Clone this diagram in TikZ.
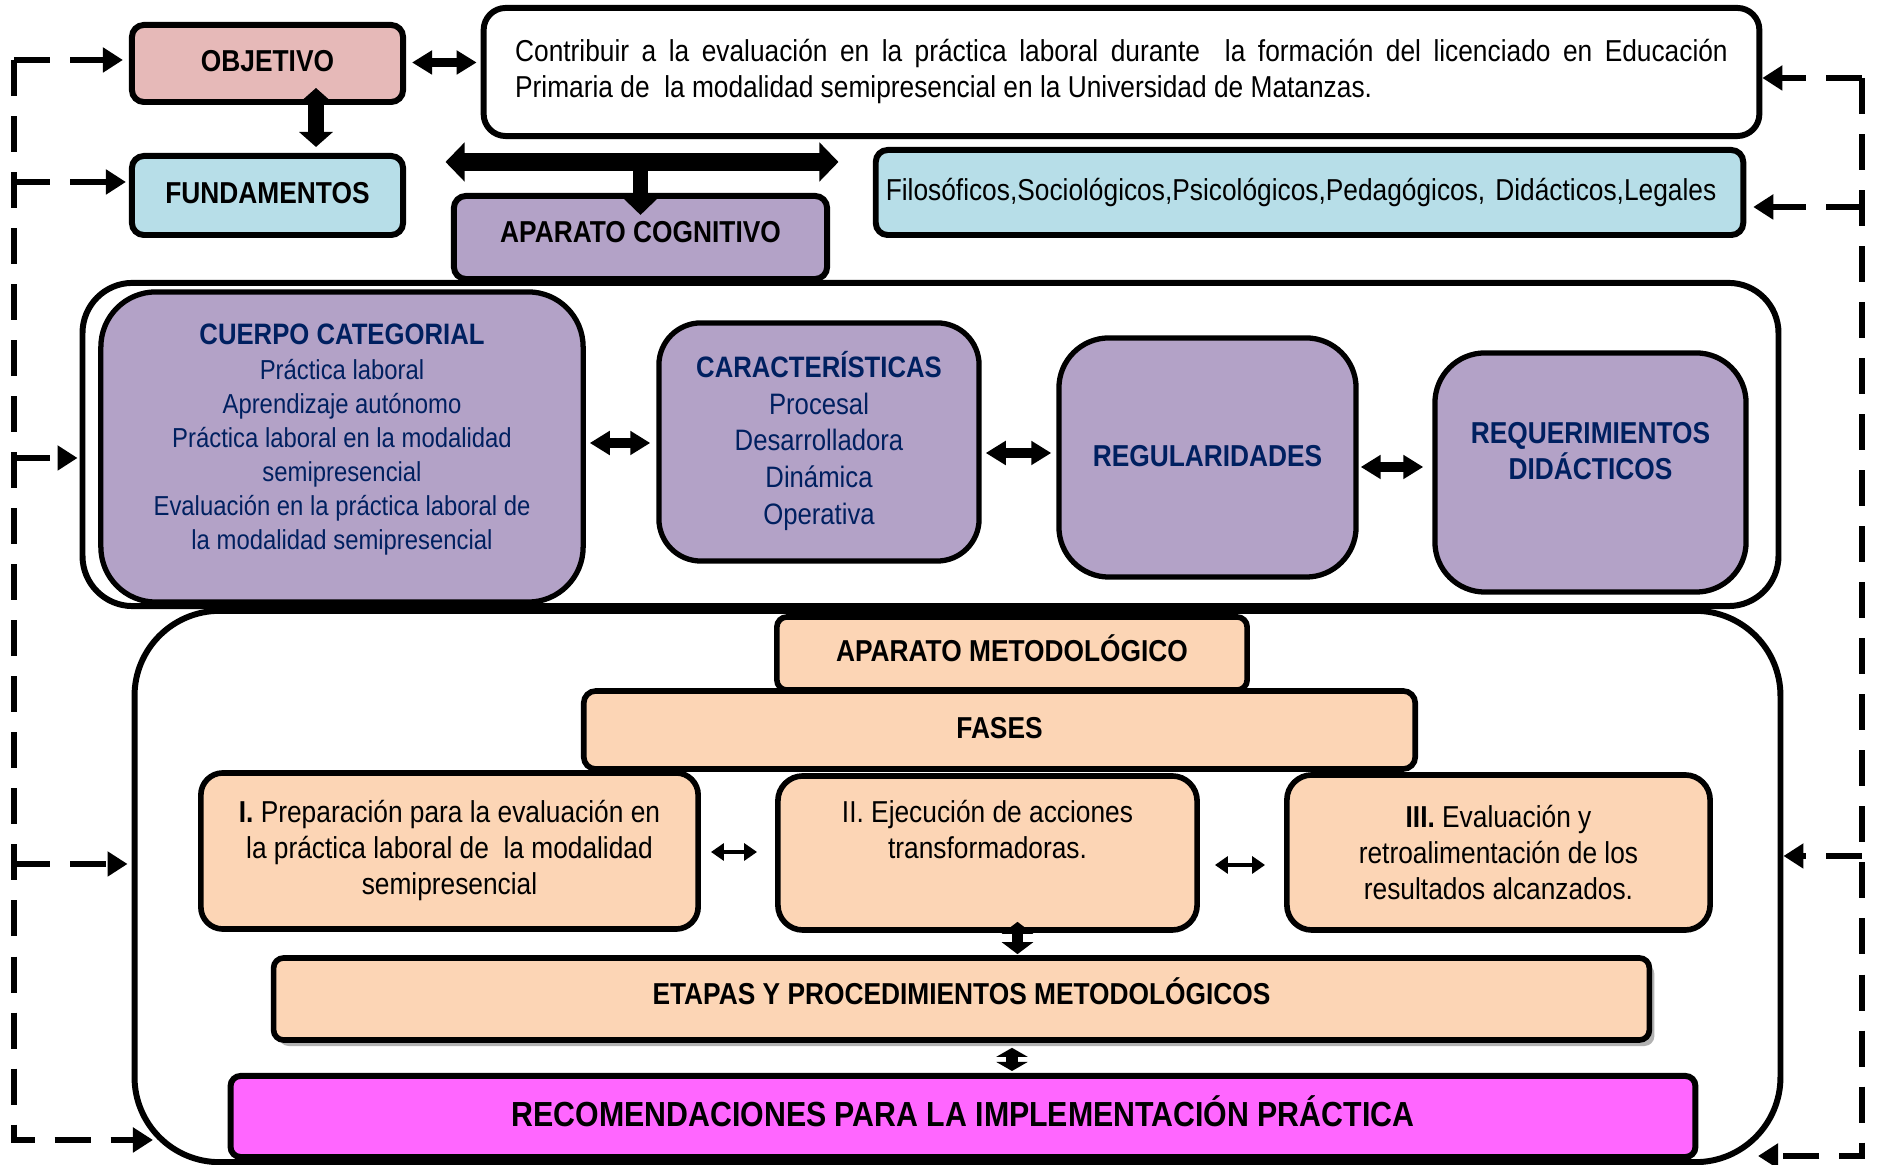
\documentclass[tikz,border=0pt]{standalone}
\usepackage{fontspec}
\setmainfont{Liberation Sans}[FakeStretch=0.87]
\usetikzlibrary{arrows.meta,calc,shadows}

\definecolor{objpink}{HTML}{E6B9B8}
\definecolor{fundblue}{HTML}{B7DEE8}
\definecolor{cogviolet}{HTML}{B3A2C7}
\definecolor{metpeach}{HTML}{FCD5B5}
\definecolor{recmagenta}{HTML}{FF66FF}
\definecolor{catnavy}{HTML}{002060}

\tikzset{
	box/.style={draw, line width=1.7pt, align=center, inner sep=0pt, font=\fontsize{8.6}{10.24}\selectfont},
	headbox/.style={box, font=\fontsize{8.6}{10.24}\selectfont\bfseries, text height=6.2pt, text depth=0.05cm},
	cogbox/.style={box, fill=cogviolet, line width=1.5pt, text=catnavy},
	metbox/.style={box, fill=metpeach, line width=1.6pt},
	bigframe/.style={draw, line width=1.7pt, fill=white, inner sep=0pt},
	dblarrow/.style={line width=2.8pt, {Triangle[length=0.2cm,width=0.23cm]}-{Triangle[length=0.2cm,width=0.23cm]}},
	thinarrow/.style={line width=1.1pt, {Triangle[length=0.13cm,width=0.17cm]}-{Triangle[length=0.13cm,width=0.17cm]}},
	updown/.style={line width=3.4pt, {Triangle[length=0.12cm,width=0.31cm]}-{Triangle[length=0.12cm,width=0.31cm]}},
	feedback/.style={line width=1.6pt, dash pattern=on 0.36cm off 0.2cm, -{Triangle[length=0.2cm,width=0.24cm]}}
}

\begin{document}
\begin{tikzpicture}[x=0.01cm, y=-0.01cm]
	\useasboundingbox (0,0) rectangle (1878,1165);
	
	%%%%% FRAMES %%%%%
	\node[bigframe, rounded corners=0.85cm, minimum width=16.45cm, minimum height=5.51cm] (metframe) at (957.5,886.5) {};
	\node[bigframe, rounded corners=0.5cm, minimum width=16.95cm, minimum height=3.23cm] (cogframe) at (930.5,444.5) {};
	
	%%%%% TOP %%%%%
	\node[headbox, fill=objpink, rounded corners=0.12cm, minimum width=2.71cm, minimum height=0.77cm] (obj) at (267.5,63.5) {OBJETIVO};
	\node[headbox, fill=fundblue, rounded corners=0.12cm, minimum width=2.71cm, minimum height=0.79cm] (fund) at (267.5,195.5) {FUNDAMENTOS};
	\node[box, fill=white, rounded corners=0.22cm, minimum width=12.75cm, minimum height=1.28cm, text width=12.12cm, align=justify] (objtext) at (1121.5,72)
		{\hyphenpenalty=10000\tolerance=9999 Contribuir a la evaluación en la práctica laboral durante~ la formación del licenciado en Educación\linebreak Primaria de~ la modalidad semipresencial en la Universidad de Matanzas.};
	\node[box, fill=fundblue, rounded corners=0.12cm, minimum width=8.67cm, minimum height=0.85cm, text width=8.47cm, align=left] (filo) at (1309.5,192.5)
		{Filosóficos,Sociológicos,Psicológicos,Pedagógicos, Didácticos,Legales};
	\node[headbox, fill=cogviolet, rounded corners=0.12cm, minimum width=3.73cm, minimum height=0.83cm, text depth=0.12cm] (apcog) at (640.5,237.5) {APARATO COGNITIVO};
	
	%%%%% APARATO COGNITIVO %%%%%
	\node[cogbox, rounded corners=0.55cm, minimum width=4.82cm, minimum height=3.10cm, font=\fontsize{7.8}{9.7}\selectfont] (cuerpo) at (342,447)
		{{\fontsize{8.4}{10.5}\selectfont\bfseries CUERPO CATEGORIAL}\\Práctica laboral\\Aprendizaje autónomo\\Práctica laboral en la modalidad\\semipresencial\\Evaluación en la práctica laboral de\\la modalidad semipresencial\\[-4pt]\mbox{}};
	\node[cogbox, rounded corners=0.42cm, minimum width=3.20cm, minimum height=2.38cm, font=\fontsize{8.4}{10.4}\selectfont] (carac) at (819,442)
		{\textbf{CARACTERÍSTICAS}\\Procesal\\Desarrolladora\\Dinámica\\Operativa\\[-8pt]\mbox{}};
	\node[cogbox, rounded corners=0.5cm, minimum width=2.97cm, minimum height=2.39cm, font=\fontsize{8.6}{10.24}\selectfont\bfseries, text height=6.2pt, text depth=0.03cm] (regul) at (1207.5,457.5) {REGULARIDADES};
	\node[cogbox, rounded corners=0.5cm, minimum width=3.11cm, minimum height=2.39cm,
		label={[text=catnavy, align=center, font=\fontsize{8.6}{10.24}\selectfont\bfseries, yshift=0.21cm]center:{REQUERIMIENTOS\\DIDÁCTICOS}}] (requer) at (1590.5,472.5) {};
	
	%%%%% APARATO METODOLOGICO %%%%%
	\node[metbox, headbox, line width=1.6pt, rounded corners=0.1cm, minimum width=4.70cm, minimum height=0.73cm] (apmet) at (1012,653.5) {APARATO METODOLÓGICO};
	\node[metbox, headbox, line width=1.6pt, rounded corners=0.12cm, minimum width=8.31cm, minimum height=0.78cm] (fases) at (999.5,730) {FASES};
	\node[metbox, rounded corners=0.22cm, minimum width=4.97cm, minimum height=1.56cm] (fase1) at (449.5,851)
		{\textbf{I.} Preparación para la evaluación en\\la práctica laboral de~ la modalidad\\semipresencial};
	\node[metbox, rounded corners=0.25cm, minimum width=4.19cm, minimum height=1.54cm] (fase2) at (987.5,853)
		{II. Ejecución de acciones\\transformadoras.\\[3pt]\mbox{}};
	\node[metbox, rounded corners=0.25cm, minimum width=4.23cm, minimum height=1.55cm] (fase3) at (1498.5,852.5)
		{\textbf{III.} Evaluación y\\retroalimentación de los\\resultados alcanzados.};
	\node[metbox, headbox, line width=1.6pt, rounded corners=0.1cm, minimum width=13.75cm, minimum height=0.82cm, text depth=0.1cm,
		drop shadow={shadow xshift=0.05cm, shadow yshift=-0.06cm, fill=black!30, opacity=1}] (etapas) at (961.5,999) {ETAPAS Y PROCEDIMIENTOS METODOLÓGICOS};
	\node[box, fill=recmagenta, font=\fontsize{9.9}{12}\selectfont\bfseries, text height=7.1pt, text depth=0.05cm, rounded corners=0.1cm, minimum width=14.64cm, minimum height=0.81cm] (recom) at (963,1116.5)
		{RECOMENDACIONES PARA LA IMPLEMENTACIÓN PRÁCTICA};
	
	%%%%% ARROWS %%%%%
	\draw[dblarrow] ($(obj.east)+(6,-1)$) -- ($(objtext.west |- obj.east)+(-4,-1)$);
	\draw[line width=4.5pt, {Triangle[length=0.15cm,width=0.33cm]}-{Triangle[length=0.15cm,width=0.33cm]}] ($(obj.south)+(48.5,-17)$) -- ($(fund.north)+(48.5,-6)$);
	\draw[line width=5pt, {Triangle[length=0.19cm,width=0.38cm]}-{Triangle[length=0.19cm,width=0.38cm]}] ($(apcog.north)+(-195,-31)$) -- ($(apcog.north)+(198,-31)$);
	\draw[line width=4.2pt, -{Triangle[length=0.18cm,width=0.36cm]}] ($(apcog.north)+(0,-31)$) -- ($(apcog.north)+(0,22)$);
	
	\draw[dblarrow] ($(cuerpo.east)+(4,-4)$) -- ($(carac.west |- cuerpo.east)+(-6,-4)$);
	\draw[dblarrow] ($(carac.east |- regul.west)+(4,-4.5)$) -- ($(regul.west)+(-5,-4.5)$);
	\draw[dblarrow] ($(regul.east |- requer.west)+(2,-5.5)$) -- ($(requer.west)+(-9,-5.5)$);
	
	\draw[thinarrow] ($(fase1.east)+(10,1)$) -- ($(fase2.west |- fase1.east)+(-18,1)$);
	\draw[thinarrow] ($(fase2.east)+(15,12)$) -- ($(fase3.west |- fase2.east)+(-19,12)$);
	\draw[updown] ($(fase2.south)+(30,-11)$) -- ($(etapas.north)+(56,-1)$);
	\draw[updown, {Triangle[length=0.09cm,width=0.31cm]}-{Triangle[length=0.09cm,width=0.31cm]}] ($(etapas.south)+(50.5,5)$) -- ($(recom.north)+(49,-2)$);
	
	%%%%% FEEDBACK LINES %%%%%
	\coordinate (lspine) at (14,60);
	\coordinate (rspine) at (1862,78);
	\coordinate (lfoot) at (153,1140);
	\coordinate (rfoot) at (1758,1156);
	\coordinate (toobj) at ($(obj.west)+(-6,-3.5)$);
	\coordinate (tofund) at ($(fund.west)+(-3,-13.5)$);
	\coordinate (tocog) at ($(cogframe.west)+(-2,13.5)$);
	\coordinate (tometl) at ($(metframe.west)+(-4,-22.5)$);
	\coordinate (totext) at ($(objtext.east)+(0,6)$);
	\coordinate (tofilo) at ($(filo.east)+(7,14.5)$);
	\coordinate (tometr) at ($(metframe.east)+(0,-30.5)$);
	
	\draw[feedback] (lspine) -- (lfoot -| lspine) -- (lfoot);
	\draw[feedback] (toobj -| lspine) -- (toobj);
	\draw[feedback] (tofund -| lspine) -- (tofund);
	\draw[feedback] (tocog -| lspine) -- (tocog);
	\draw[feedback] (tometl -| lspine) -- (tometl);
	
	\draw[feedback] (rspine) -- (rfoot -| rspine) -- (rfoot);
	\draw[feedback] (totext -| rspine) -- (totext);
	\draw[feedback] (tofilo -| rspine) -- (tofilo);
	\draw[feedback] (tometr -| rspine) -- (tometr);
\end{tikzpicture}
\end{document}
